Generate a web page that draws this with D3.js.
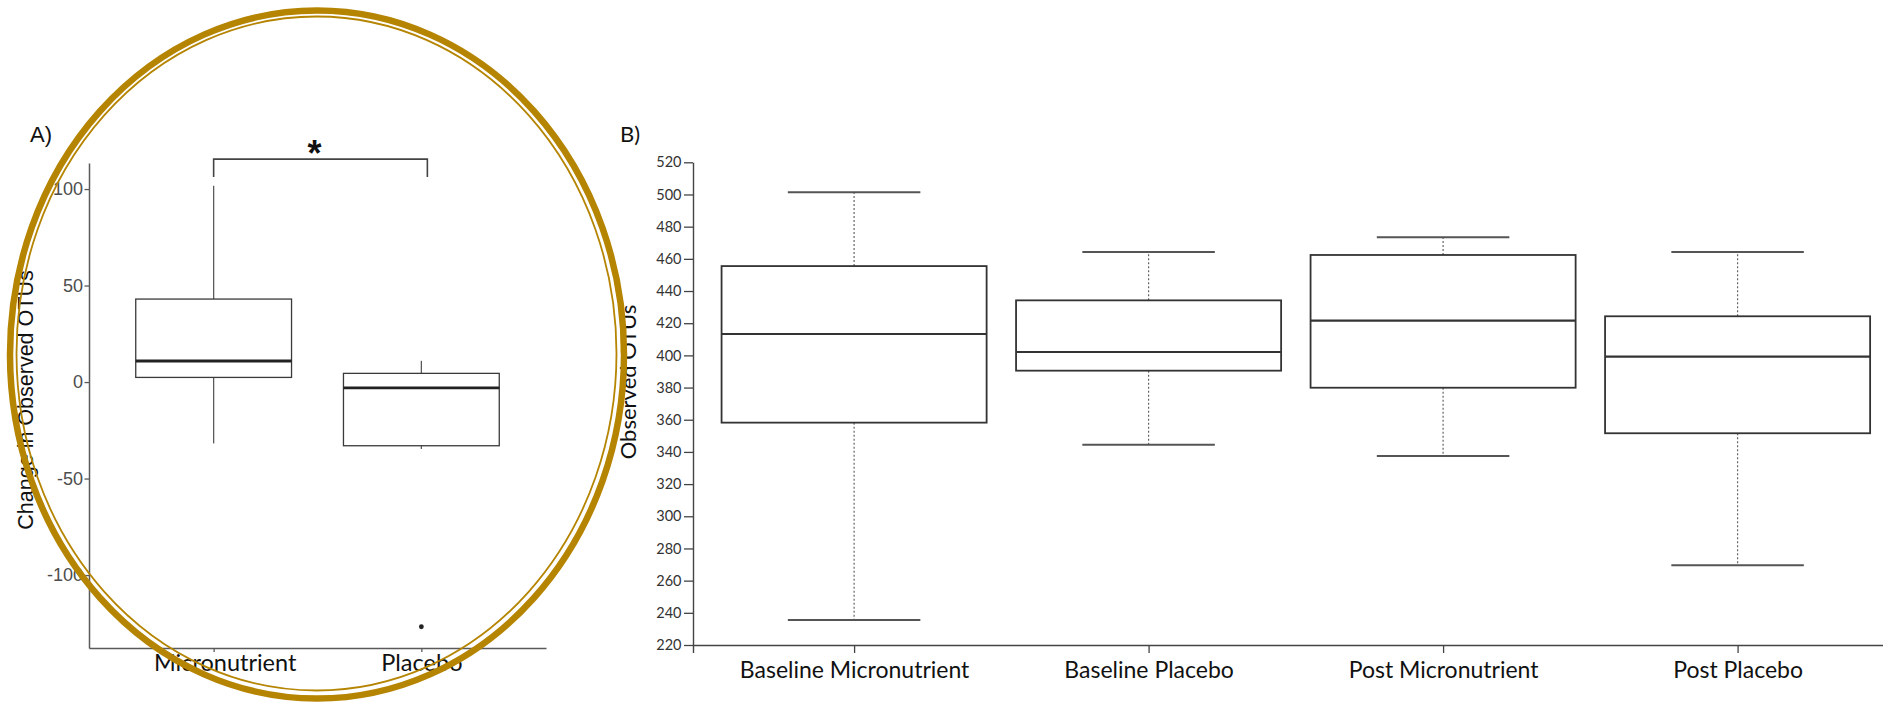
<!DOCTYPE html>
<html>
<head>
<meta charset="utf-8">
<script src="https://cdn.jsdelivr.net/npm/d3@7"></script>
<style>
  body { margin: 0; background: #fff; }
  svg { display: block; }
</style>
</head>
<body>
<svg id="fig" width="1883" height="713"></svg>
<script>
// Panel A: change in observed OTUs per group (box-plot summaries)
const changeGroups = ["Micronutrient", "Placebo"];
const changeLowerWhisker = [-31.8, -34.7];
const changeQ1 = [2.4, -33.0];
const changeMedian = [10.9, -3.0];
const changeQ3 = [43.0, 4.5];
const changeUpperWhisker = [101.7, 11.0];
const changeOutliers = [[], [-126.8]];
const changeTicks = [-100, -50, 0, 50, 100];

// Panel B: observed OTUs at baseline and post intervention
const otuGroups = ["Baseline Micronutrient", "Baseline Placebo", "Post Micronutrient", "Post Placebo"];
const otuMin = [235.5, 344.5, 337.5, 269.5];
const otuQ1 = [358.2, 390.5, 379.9, 351.6];
const otuMedian = [413.3, 402.1, 421.6, 399.2];
const otuQ3 = [455.5, 434.2, 462.4, 424.3];
const otuMax = [501.4, 464.3, 473.4, 464.3];
const otuTicks = d3.range(220, 521, 20);

const svg = d3.select("#fig");

// ---------------- Panel A ----------------
const gA = svg.append("g");
const yA = d3.scaleLinear().domain([-137.8, 113.5]).range([648, 163]);
const xA = d3.scalePoint().domain(changeGroups).range([89, 546]).padding(0.6);
const boxWA = xA.step() * 0.75;
const sansA = "'Liberation Sans', Arial, sans-serif";
const humanist = "Lato, 'Open Sans', sans-serif";

const changeRows = changeGroups.map((g, i) => ({
  g, lo: changeLowerWhisker[i], q1: changeQ1[i], med: changeMedian[i],
  q3: changeQ3[i], hi: changeUpperWhisker[i], out: changeOutliers[i]
}));

// whiskers
gA.selectAll(".whiskA").data(changeRows).join("g").each(function (d) {
  const g = d3.select(this);
  g.append("line").attr("x1", xA(d.g)).attr("x2", xA(d.g))
    .attr("y1", yA(d.q3)).attr("y2", yA(d.hi))
    .attr("stroke", "#5a5a5a").attr("stroke-width", 1.3);
  g.append("line").attr("x1", xA(d.g)).attr("x2", xA(d.g))
    .attr("y1", yA(d.q1)).attr("y2", yA(d.lo))
    .attr("stroke", "#5a5a5a").attr("stroke-width", 1.3);
});
// boxes
gA.selectAll(".boxA").data(changeRows).join("rect")
  .attr("x", d => xA(d.g) - boxWA / 2).attr("width", boxWA)
  .attr("y", d => yA(d.q3)).attr("height", d => yA(d.q1) - yA(d.q3))
  .attr("fill", "#fff").attr("stroke", "#3a3a3a").attr("stroke-width", 1.3);
// medians
gA.selectAll(".medA").data(changeRows).join("line")
  .attr("x1", d => xA(d.g) - boxWA / 2).attr("x2", d => xA(d.g) + boxWA / 2)
  .attr("y1", d => yA(d.med)).attr("y2", d => yA(d.med))
  .attr("stroke", "#222").attr("stroke-width", 2.8);
// outliers
gA.selectAll(".outA").data(changeRows.flatMap(d => d.out.map(v => ({ g: d.g, v }))))
  .join("circle")
  .attr("cx", d => xA(d.g)).attr("cy", d => yA(d.v)).attr("r", 2.4)
  .attr("fill", "#222");

// axes
const axAy = gA.append("g").attr("transform", "translate(89,0)")
  .call(d3.axisLeft(yA).tickValues(changeTicks).tickSize(4.5).tickSizeOuter(0)
    .tickPadding(1.5).tickFormat(d => String(d)));
axAy.selectAll("text").attr("font-family", sansA).attr("font-size", 18).attr("fill", "#4d4d4d");
const axAx = gA.append("g").attr("transform", "translate(0,648)")
  .call(d3.axisBottom(xA).tickSize(4).tickSizeOuter(0).tickPadding(2));
axAx.selectAll("text").attr("font-family", humanist).attr("font-size", 23.5).attr("fill", "#111")
  .attr("dx", d => d === "Micronutrient" ? 11 : 0);
[axAy, axAx].forEach(a => {
  a.select(".domain").attr("stroke", "#5a5a5a").attr("stroke-width", 1.5);
  a.selectAll(".tick line").attr("stroke", "#5a5a5a").attr("stroke-width", 1.3);
});

gA.append("text").attr("transform", "translate(25,400) rotate(-90)")
  .attr("text-anchor", "middle").attr("dy", "0.35em")
  .attr("font-family", sansA).attr("font-size", 21.5).attr("fill", "#111")
  .text("Change in Observed OTUs");

gA.append("text").attr("x", 30).attr("y", 142)
  .attr("font-family", sansA).attr("font-size", 22).attr("fill", "#111").text("A)");

// significance bracket
const bx1 = xA(changeGroups[0]), bx2 = xA(changeGroups[1]) + 6;
const bTop = yA(115.5), bFoot = yA(106.3);
gA.append("path")
  .attr("d", `M${bx1},${bFoot}V${bTop}H${bx2}V${bFoot}`)
  .attr("fill", "none").attr("stroke", "#444").attr("stroke-width", 1.6);
gA.append("text").attr("x", (bx1 + bx2) / 2 - 6).attr("y", 166)
  .attr("text-anchor", "middle").attr("font-family", sansA)
  .attr("font-weight", "bold").attr("font-size", 36).attr("fill", "#111").text("*");

// ---------------- Panel B ----------------
const gB = svg.append("g");
const yB = d3.scaleLinear().domain([220, 520]).range([645, 162.3]);
const xB = d3.scalePoint().domain(otuGroups).range([693, 693 + 294.5 * (3 + 2 * 0.547)]).padding(0.547);
const boxWB = xB.step() * 0.9;
const capWB = boxWB / 2;

const otuRows = otuGroups.map((g, i) => ({
  g, lo: otuMin[i], q1: otuQ1[i], med: otuMedian[i], q3: otuQ3[i], hi: otuMax[i]
}));

gB.selectAll(".whiskB").data(otuRows).join("g").each(function (d) {
  const g = d3.select(this);
  const x = xB(d.g);
  g.append("line").attr("x1", x).attr("x2", x).attr("y1", yB(d.q3)).attr("y2", yB(d.hi))
    .attr("stroke", "#666").attr("stroke-width", 1.2).attr("stroke-dasharray", "2,2");
  g.append("line").attr("x1", x).attr("x2", x).attr("y1", yB(d.q1)).attr("y2", yB(d.lo))
    .attr("stroke", "#666").attr("stroke-width", 1.2).attr("stroke-dasharray", "2,2");
  g.append("line").attr("x1", x - capWB / 2).attr("x2", x + capWB / 2)
    .attr("y1", yB(d.hi)).attr("y2", yB(d.hi)).attr("stroke", "#555").attr("stroke-width", 2);
  g.append("line").attr("x1", x - capWB / 2).attr("x2", x + capWB / 2)
    .attr("y1", yB(d.lo)).attr("y2", yB(d.lo)).attr("stroke", "#555").attr("stroke-width", 2);
});
gB.selectAll(".boxB").data(otuRows).join("rect")
  .attr("x", d => xB(d.g) - boxWB / 2).attr("width", boxWB)
  .attr("y", d => yB(d.q3)).attr("height", d => yB(d.q1) - yB(d.q3))
  .attr("fill", "#fff").attr("stroke", "#333").attr("stroke-width", 1.8);
gB.selectAll(".medB").data(otuRows).join("line")
  .attr("x1", d => xB(d.g) - boxWB / 2).attr("x2", d => xB(d.g) + boxWB / 2)
  .attr("y1", d => yB(d.med)).attr("y2", d => yB(d.med))
  .attr("stroke", "#333").attr("stroke-width", 2.2);

const axBy = gB.append("g").attr("transform", "translate(693,0)")
  .call(d3.axisLeft(yB).tickValues(otuTicks).tickSize(9).tickSizeOuter(0).tickPadding(2.5));
axBy.selectAll("text").attr("font-family", humanist).attr("font-size", 14.5).attr("fill", "#333");
const axBx = gB.append("g").attr("transform", "translate(0,645)")
  .call(d3.axisBottom(xB).tickSize(8).tickSizeOuter(8).tickPadding(9));
axBx.selectAll("text").attr("font-family", humanist).attr("font-size", 23).attr("fill", "#111");
[axBy, axBx].forEach(a => {
  a.select(".domain").attr("stroke", "#444").attr("stroke-width", 1.4);
  a.selectAll(".tick line").attr("stroke", "#444").attr("stroke-width", 1.3);
});

gB.append("text").attr("transform", "translate(628,382) rotate(-90)")
  .attr("text-anchor", "middle").attr("dy", "0.35em")
  .attr("font-family", humanist).attr("font-size", 22).attr("fill", "#111")
  .text("Observed OTUs");

gB.append("text").attr("x", 620).attr("y", 142)
  .attr("font-family", humanist).attr("font-size", 22).attr("fill", "#111").text("B)");

// ---------------- Highlight ring around panel A ----------------
const ring = svg.append("g").attr("fill", "none").attr("stroke", "#b58400");
ring.append("ellipse").attr("cx", 317).attr("cy", 354.5).attr("rx", 307).attr("ry", 344)
  .attr("stroke-width", 6.5);
ring.append("ellipse").attr("cx", 316.5).attr("cy", 353.5).attr("rx", 300).attr("ry", 337)
  .attr("stroke-width", 1.8);
</script>
</body>
</html>
